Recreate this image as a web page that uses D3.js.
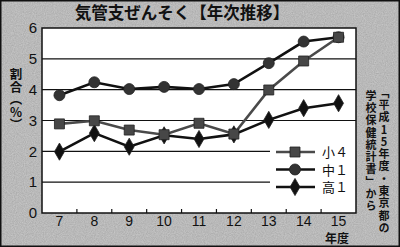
<!DOCTYPE html>
<html lang="ja">
<head>
<meta charset="UTF-8">
<title>気管支ぜんそく【年次推移】</title>
<script src="https://d3js.org/d3.v7.min.js"></script>
<style>
  body { margin: 0; background: #fff; }
  svg { display: block; }
  .num { font-family: "Liberation Sans Narrow", "Liberation Sans", Arial, sans-serif; font-size: 15px; fill: #111; }
  .xnum { font-size: 14px; }
  .jp { font-family: "Noto Sans CJK JP", sans-serif; fill: #111; }
  .vert { writing-mode: vertical-rl; text-orientation: upright; }
</style>
</head>
<body>
<div id="chart"></div>
<script>
// years (平成) and rates (%)
const years = [7, 8, 9, 10, 11, 12, 13, 14, 15];
const sho4  = [2.89, 2.99, 2.69, 2.54, 2.91, 2.56, 3.99, 4.93, 5.70];
const chu1  = [3.82, 4.24, 4.02, 4.09, 4.02, 4.18, 4.86, 5.56, 5.70];
const kou1  = [1.99, 2.59, 2.15, 2.52, 2.40, 2.55, 3.02, 3.40, 3.56];
const yTicks = [0, 1, 2, 3, 4, 5, 6];
const seriesNames = ["小４", "中１", "高１"];
const yTitle = "割合（%）";
const noteCols = ["「平成15年度・東京都の", "学校保健統計書」から"];

const W = 400, H = 247;
const plot = { left: 42, right: 356, top: 28, bottom: 213 };

const svg = d3.select("#chart").append("svg")
    .attr("width", W).attr("height", H);

// textured grey paper background
const defs = svg.append("defs");
const f = defs.append("filter").attr("id", "grain");
f.append("feTurbulence").attr("type", "fractalNoise").attr("baseFrequency", 0.9).attr("numOctaves", 2).attr("result", "n");
f.append("feColorMatrix").attr("type", "matrix")
    .attr("values", "0 0 0 0 0  0 0 0 0 0  0 0 0 0 0  0 0 0 0.18 0");

svg.append("rect").attr("width", W).attr("height", H).attr("fill", "#cbcbcb");
svg.append("rect").attr("width", W).attr("height", H).attr("filter", "url(#grain)");
svg.append("rect").attr("x", 0.75).attr("y", 0.75).attr("width", W - 1.5).attr("height", H - 1.5)
    .attr("fill", "none").attr("stroke", "#111").attr("stroke-width", 1.5);

const x = d3.scaleBand().domain(years).range([plot.left, plot.right]);
const y = d3.scaleLinear().domain([0, 6]).range([plot.bottom, plot.top]);
const cx = d => x(d) + x.bandwidth() / 2;

// plot area
svg.append("rect")
    .attr("x", plot.left).attr("y", plot.top)
    .attr("width", plot.right - plot.left).attr("height", plot.bottom - plot.top)
    .attr("fill", "#fff").attr("stroke", "#111").attr("stroke-width", 1.5);

// gridlines (lower ones stop before the legend)
svg.append("g").selectAll("line")
    .data(yTicks.filter(v => v > 0 && v < 6))
    .join("line")
    .attr("x1", plot.left).attr("x2", v => v <= 2 ? 270 : plot.right)
    .attr("y1", v => y(v)).attr("y2", v => y(v))
    .attr("stroke", "#111").attr("stroke-width", 1.2);

// boundary ticks on x axis
svg.append("g").selectAll("line")
    .data(years.slice(0, -1))
    .join("line")
    .attr("x1", d => x(d) + x.bandwidth()).attr("x2", d => x(d) + x.bandwidth())
    .attr("y1", plot.bottom).attr("y2", plot.bottom - 4)
    .attr("stroke", "#111").attr("stroke-width", 1.2);

// axes labels
const xAxis = svg.append("g")
    .attr("transform", `translate(0,${plot.bottom})`)
    .call(d3.axisBottom(x).tickSize(0).tickPadding(3));
xAxis.select(".domain").remove();
xAxis.selectAll("text").attr("class", "num xnum").attr("font-size", null).attr("font-family", null);

const yAxis = svg.append("g")
    .attr("transform", `translate(${plot.left},0)`)
    .call(d3.axisLeft(y).tickValues(yTicks).tickSize(0).tickPadding(5).tickFormat(d3.format("d")));
yAxis.select(".domain").remove();
yAxis.selectAll("text").attr("class", "num").attr("font-size", null).attr("font-family", null);

// title
svg.append("text").attr("class", "jp")
    .attr("x", 182).attr("y", 19).attr("text-anchor", "middle")
    .attr("font-size", 16.5).attr("font-weight", "bold")
    .text("気管支ぜんそく【年次推移】");

// vertical text, one upright glyph per element
function vColumn(str, colX, top, step, size) {
    Array.from(str).forEach((c, i) => {
        svg.append("text").attr("class", "jp vert")
            .attr("x", colX).attr("y", top + i * step)
            .attr("font-size", size).attr("font-weight", "bold")
            .text(c);
    });
}

vColumn(yTitle, 16, 68, 12.5, 12.5);
vColumn(noteCols[0], 384, 87, 12.3, 11);
vColumn(noteCols[1], 371, 90, 12.3, 11);

// x title
svg.append("text").attr("class", "jp")
    .attr("x", 337).attr("y", 243).attr("text-anchor", "middle")
    .attr("font-size", 12).attr("font-weight", "bold").text("年度");

// marker shapes
const markers = [
    { sym: d3.symbolSquare, size: 100, fill: "#474747", line: "#4a4a4a" },
    { sym: d3.symbolCircle, size: 95, fill: "#333", line: "#111" },
    { sym: d3.symbolDiamond, size: 85, fill: "#111", line: "#111" }
];
const seriesData = [sho4, chu1, kou1];

const line = d3.line().x((d, i) => cx(years[i])).y(d => y(d));

// diamonds first, then circles, squares on top
[2, 1, 0].forEach(si => {
    const m = markers[si];
    const g = svg.append("g");
    g.append("path").datum(seriesData[si])
        .attr("d", line).attr("fill", "none")
        .attr("stroke", m.line).attr("stroke-width", 2.6);
    g.selectAll("path.pt").data(seriesData[si]).join("path")
        .attr("class", "pt")
        .attr("transform", (d, i) => `translate(${cx(years[i])},${y(d)})`)
        .attr("d", d3.symbol().type(m.sym).size(m.size))
        .attr("fill", m.fill).attr("stroke", "#222").attr("stroke-width", 0.8);
});

// legend
const legend = svg.append("g");
seriesNames.forEach((name, i) => {
    const ly = 152 + i * 17.5;
    const m = markers[i];
    legend.append("line")
        .attr("x1", 276).attr("x2", 315).attr("y1", ly).attr("y2", ly)
        .attr("stroke", m.line).attr("stroke-width", 2.6);
    legend.append("path")
        .attr("transform", `translate(295,${ly})`)
        .attr("d", d3.symbol().type(m.sym).size(m.size))
        .attr("fill", m.fill).attr("stroke", "#222").attr("stroke-width", 0.8);
    legend.append("text").attr("class", "jp")
        .attr("x", 322).attr("y", ly + 5)
        .attr("font-size", 13).text(name);
});
</script>
</body>
</html>
